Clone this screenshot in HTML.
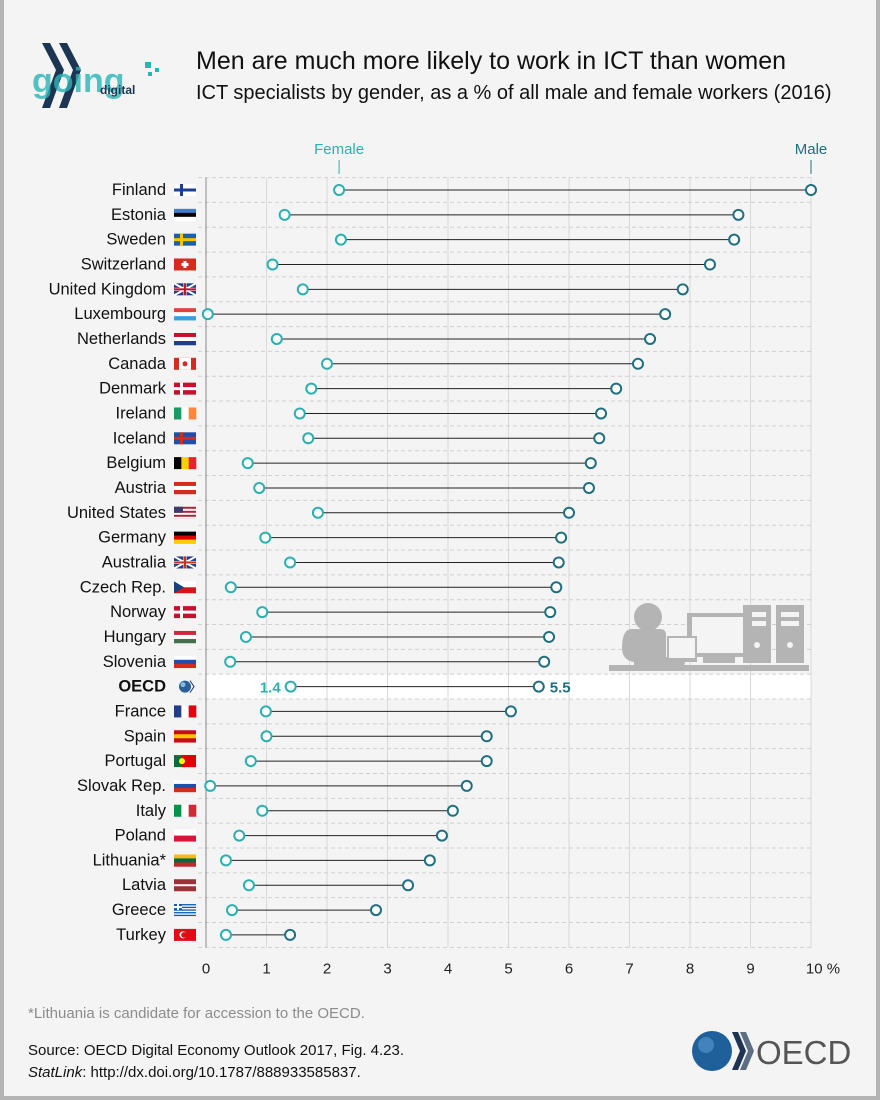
<!DOCTYPE html>
<html><head><meta charset="utf-8">
<style>
body{margin:0;background:#fff;}
#wrap{position:relative;width:880px;height:1100px;background:#f4f4f4;font-family:"Liberation Sans",sans-serif;overflow:hidden;}
.t{position:absolute;white-space:nowrap;}
</style></head>
<body>
<div id="wrap">
<div style="position:absolute;left:0;top:0;width:4px;height:1100px;background:#b4b4b4"></div>
<div style="position:absolute;right:0;top:0;width:4px;height:1100px;background:#b4b4b4"></div>
<div style="position:absolute;left:0;top:1096px;width:880px;height:4px;background:#b4b4b4"></div>
<svg class="t" style="left:30px;top:40px" width="135" height="72">
<polygon points="12,3 20,3 34,30 20,68 12,68 26,30" fill="#1b3553"/>
<polygon points="29,3 37,3 51,30 37,68 29,68 43,30" fill="#1b3553"/>
<text x="2" y="52" font-size="34" font-weight="bold" fill="#2ab5b5" opacity="0.8" font-family="Liberation Sans,sans-serif">going</text>
<text x="70" y="54" font-size="12" font-weight="bold" fill="#1b3553" font-family="Liberation Sans,sans-serif">digital</text>
<rect x="115" y="22" width="6" height="6" fill="#2ab5b5"/><rect x="125" y="28" width="4" height="4" fill="#2ab5b5"/><rect x="118" y="32" width="4" height="4" fill="#2ab5b5"/>
</svg>
<div class="t" style="left:196px;top:47px;font-size:25px;color:#111">Men are much more likely to work in ICT than women</div>
<div class="t" style="left:196px;top:82px;font-size:20px;color:#111">ICT specialists by gender, as a % of all male and female workers (2016)</div>
<svg id="chart" class="t" style="left:0;top:0" width="880" height="1000"></svg>
<div class="t" style="left:28px;top:1005px;font-size:15px;color:#8c8c8c">*Lithuania is candidate for accession to the OECD.</div>
<div class="t" style="left:28px;top:1042px;font-size:15px;color:#111">Source: OECD Digital Economy Outlook 2017, Fig. 4.23.</div>
<div class="t" style="left:28px;top:1064px;font-size:15px;color:#111"><i>StatLink</i>: http://dx.doi.org/10.1787/888933585837.</div>
<svg class="t" style="left:690px;top:1028px" width="170" height="46">
<circle cx="22" cy="23" r="20" fill="#1f5f9a"/><circle cx="16" cy="17" r="8" fill="#5b9bd5" opacity="0.6"/>
<polygon points="42,4 48,4 56,23 48,42 42,42 50,23" fill="#1b3553"/>
<polygon points="50,4 56,4 64,23 56,42 50,42 58,23" fill="#1b3553" opacity="0.7"/>
<text x="66" y="36" font-size="33" fill="#555" font-family="Liberation Sans,sans-serif">OECD</text>
</svg>
</div>
<script>
const countries=["Finland","Estonia","Sweden","Switzerland","United Kingdom","Luxembourg","Netherlands","Canada","Denmark","Ireland","Iceland","Belgium","Austria","United States","Germany","Australia","Czech Rep.","Norway","Hungary","Slovenia","OECD","France","Spain","Portugal","Slovak Rep.","Italy","Poland","Lithuania*","Latvia","Greece","Turkey"];
const female=[2.2,1.3,2.23,1.1,1.6,0.03,1.17,2.0,1.74,1.55,1.69,0.69,0.88,1.85,0.98,1.39,0.41,0.93,0.66,0.4,1.4,0.99,1.0,0.74,0.07,0.93,0.55,0.33,0.71,0.43,0.33];
const male=[10.0,8.8,8.73,8.33,7.88,7.59,7.34,7.14,6.78,6.53,6.5,6.36,6.33,6.0,5.87,5.83,5.79,5.69,5.67,5.59,5.5,5.04,4.64,4.64,4.31,4.08,3.9,3.7,3.34,2.81,1.39];
const ticks=[0,1,2,3,4,5,6,7,8,9,10];
const flags=[["#fff","#1b3f8f","cross"],["#3a7fd0","#000","#fff"],["#1f5fa8","#f2c500","cross"],["#d52b1e","#fff","swiss"],["#1f3f8a","#c8102e","uk"],["#e0443c","#fff","#39a0e0"],["#c8102e","#fff","#1f3f8a"],["#d52b1e","#fff","ca"],["#c8102e","#fff","cross"],["#169b62","#fff","#ff883e","v"],["#1f4fa8","#d52b1e","cross"],["#000","#f8d000","#e2252b","v"],["#d52b1e","#fff","#d52b1e"],["#b22234","#fff","us"],["#000","#dd0000","#ffce00"],["#1f3f8a","#d52b1e","uk"],["#fff","#d7141a","cz"],["#c8102e","#fff","cross"],["#cd2a3e","#fff","#436f4d"],["#fff","#1f4fa8","#d52b1e"],["oecd"],["#1f3f8a","#fff","#e1000f","v"],["#c60b1e","#ffc400","#c60b1e"],["#0b6b3a","#e00000","pt"],["#fff","#1f4fa8","#d52b1e"],["#009246","#fff","#ce2b37","v"],["#fff","#dc143c","pl"],["#fdb913","#006a44","#c1272d"],["#9e3039","#fff","lv"],["#0d5eaf","#fff","gr"],["#e30a17","#fff","tr"]];
const svg=document.getElementById('chart');
const NS="http://www.w3.org/2000/svg";
const x0=206,x1=811,y0=190,dy=24.83;
const X=v=>x0+(x1-x0)*v/10;
const Y=i=>y0+i*dy;
function el(tag,a,p){const e=document.createElementNS(NS,tag);for(const k in a)e.setAttribute(k,a[k]);(p||svg).appendChild(e);return e;}
const yTopEdge=Y(0)-dy/2,yBotEdge=Y(countries.length-1)+dy/2;
let hl=el('rect',{x:x0,y:Y(20)-dy/2,width:x1-x0,height:dy,fill:'#fff'});


ticks.forEach(t=>{
 let l=el('line',{x1:X(t),x2:X(t),y1:yTopEdge,y2:yBotEdge,stroke:'#d8d8d8','stroke-width':1});
 
 
 let tx=el('text',{x:X(t),y:yBotEdge+26,'font-size':15,'text-anchor':'middle',fill:'#222','font-family':'Liberation Sans,sans-serif'});
 tx.textContent=t===10?'10 %':t;
 if(t===10)tx.setAttribute('x',X(t)+12);
 
 
});
for(let i=0;i<=countries.length;i++){
 let l=el('line',{x1:x0-8,x2:x1,y1:Y(i)-dy/2,y2:Y(i)-dy/2,stroke:'#cfcfcf','stroke-dasharray':'4,3'});
 
 
}
let ax=el('line',{x1:x0,x2:x0,y1:yTopEdge,y2:yBotEdge,stroke:'#888'});


const ic=el('g',{fill:'#b4b4b4'});


el('circle',{cx:648,cy:617,r:14},ic);
el('path',{d:'M632,629 h28 q6,0 6,6 v22 h14 q5,0 5,5 q0,5 -5,5 h-46 v-5 q-12,-2 -12,-14 q0,-19 10,-19z'},ic);
el('rect',{x:609,y:665,width:200,height:6},ic);
el('rect',{x:687,y:613,width:64,height:44},ic);el('rect',{x:692,y:617,width:54,height:36,fill:'#f4f4f4'},ic);
el('rect',{x:667,y:636,width:30,height:26},ic);el('rect',{x:669,y:638,width:26,height:20,fill:'#f4f4f4'},ic);
el('rect',{x:703,y:657,width:32,height:6},ic);
el('rect',{x:743,y:605,width:28,height:58},ic);el('rect',{x:776,y:605,width:28,height:58},ic);
el('rect',{x:781,y:612,width:18,height:5,fill:'#f4f4f4'},ic);el('rect',{x:781,y:621,width:18,height:5,fill:'#f4f4f4'},ic);
el('rect',{x:752,y:612,width:14,height:5,fill:'#f4f4f4'},ic);el('rect',{x:752,y:621,width:14,height:5,fill:'#f4f4f4'},ic);
el('circle',{cx:790,cy:645,r:3,fill:'#f4f4f4'},ic);el('circle',{cx:757,cy:645,r:3,fill:'#f4f4f4'},ic);
[['Female',female[0],'#2ab0b0'],['Male',male[0],'#1f6f80']].forEach(([n,v,c])=>{
 let t=el('text',{x:X(v),y:154,'font-size':15,'text-anchor':'middle',fill:c,'font-family':'Liberation Sans,sans-serif'});
 t.textContent=n;
 
 
 el('line',{x1:X(v),x2:X(v),y1:160,y2:174,stroke:c});
});
function flag(i,f){
 const g=el('g',{});
 
 
 const fx=174,fy=Y(i)-6,w=22,h=12;
 if(f[0]==='oecd'){el('circle',{cx:fx+11,cy:fy+6,r:6,fill:'#2a5f9a'},g);el('circle',{cx:fx+9,cy:fy+4,r:2.5,fill:'#8bd'},g);el('path',{d:`M${fx+16},${fy} l4,6 l-4,6`,stroke:'#1b3553',fill:'none'},g);return;}
 const k=f[2];
 if(f[3]==='v'){[0,1,2].forEach(j=>el('rect',{x:fx+j*w/3,y:fy,width:w/3+0.3,height:h,fill:f[j]},g));return;}
 if(k&&k[0]==='#'){[0,1,2].forEach(j=>el('rect',{x:fx,y:fy+j*h/3,width:w,height:h/3+0.3,fill:f[j]},g));return;}
 el('rect',{x:fx,y:fy,width:w,height:h,fill:f[0]},g);
 if(k==='cross'){el('rect',{x:fx,y:fy+4.5,width:w,height:3,fill:f[1]},g);el('rect',{x:fx+6,y:fy,width:3,height:h,fill:f[1]},g);}
 else if(k==='swiss'){el('rect',{x:fx+9.5,y:fy+2.5,width:3,height:7,fill:'#fff'},g);el('rect',{x:fx+7.5,y:fy+4.5,width:7,height:3,fill:'#fff'},g);}
 else if(k==='uk'){el('path',{d:`M${fx},${fy}L${fx+w},${fy+h}M${fx+w},${fy}L${fx},${fy+h}`,stroke:'#fff','stroke-width':2},g);el('rect',{x:fx,y:fy+4.5,width:w,height:3,fill:'#fff'},g);el('rect',{x:fx+9.5,y:fy,width:3,height:h,fill:'#fff'},g);el('rect',{x:fx,y:fy+5,width:w,height:2,fill:f[1]},g);el('rect',{x:fx+10,y:fy,width:2,height:h,fill:f[1]},g);}
 else if(k==='ca'){el('rect',{x:fx+5,y:fy,width:12,height:h,fill:'#fff'},g);el('circle',{cx:fx+11,cy:fy+6,r:2.5,fill:f[0]},g);}
 else if(k==='us'){for(let j=0;j<6;j+=2)el('rect',{x:fx,y:fy+j*2+2,width:w,height:2,fill:'#fff'},g);el('rect',{x:fx,y:fy,width:9,height:6,fill:'#3c3b6e'},g);}
 else if(k==='cz'){el('rect',{x:fx,y:fy+6,width:w,height:6,fill:f[1]},g);el('path',{d:`M${fx},${fy}L${fx+10},${fy+6}L${fx},${fy+12}z`,fill:'#11457e'},g);}
 else if(k==='pt'){el('rect',{x:fx+8,y:fy,width:14,height:h,fill:f[1]},g);el('circle',{cx:fx+8,cy:fy+6,r:3,fill:'#ff0'},g);}
 else if(k==='pl'){el('rect',{x:fx,y:fy+6,width:w,height:6,fill:f[1]},g);}
 else if(k==='lv'){el('rect',{x:fx,y:fy+5,width:w,height:2,fill:'#fff'},g);}
 else if(k==='gr'){for(let j=1;j<9;j+=2)el('rect',{x:fx,y:fy+j*h/9,width:w,height:h/9,fill:'#fff'},g);el('rect',{x:fx,y:fy,width:8,height:6,fill:f[0]},g);el('rect',{x:fx+3,y:fy,width:2,height:6,fill:'#fff'},g);el('rect',{x:fx,y:fy+2,width:8,height:2,fill:'#fff'},g);}
 else if(k==='tr'){el('circle',{cx:fx+9,cy:fy+6,r:3.5,fill:'#fff'},g);el('circle',{cx:fx+10,cy:fy+6,r:2.8,fill:f[0]},g);}
}
countries.forEach((c,i)=>{
 const y=Y(i),isO=c==='OECD';
 let lb=el('text',{x:166,y:y+5,'font-size':16.5,'text-anchor':'end',fill:'#111','font-weight':isO?'bold':'normal','font-family':'Liberation Sans,sans-serif'});
 lb.textContent=c;
 
 
 flag(i,flags[i]);
 let ln=el('line',{x1:X(female[i]),x2:X(male[i]),y1:y,y2:y,stroke:'#222','stroke-width':1});
 
 
 let m=el('circle',{cx:X(male[i]),cy:y,r:5,fill:'#fff',stroke:'#1f6f80','stroke-width':2});
 
 
 let f=el('circle',{cx:X(female[i]),cy:y,r:5,fill:'#fff',stroke:'#2ab0b0','stroke-width':2});
 
 
 if(isO){
  let a=el('text',{x:X(female[i])-10,y:y+6,'font-size':15,'font-weight':'bold','text-anchor':'end',fill:'#2ab0b0','font-family':'Liberation Sans,sans-serif'});
  a.textContent=female[i].toFixed(1);
  
  
  let b=el('text',{x:X(male[i])+11,y:y+6,'font-size':15,'font-weight':'bold',fill:'#1f6f80','font-family':'Liberation Sans,sans-serif'});
  b.textContent=male[i].toFixed(1);
  
  
 }
});
</script>
</body></html>
